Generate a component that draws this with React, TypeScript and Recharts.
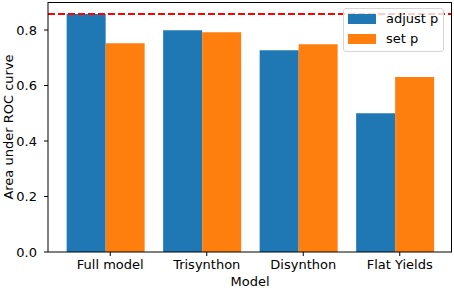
import { BarChart, Bar, XAxis, YAxis, ReferenceLine } from "recharts";

const models = ["Full model", "Trisynthon", "Disynthon", "Flat Yields"];
const adjustP = [0.858, 0.799, 0.727, 0.5];
const setP = [0.752, 0.792, 0.749, 0.631];
const bestAuc = 0.858;
const yTicks = [0, 0.2, 0.4, 0.6, 0.8];

const data = models.map((model, i) => ({
  model,
  adjust: adjustP[i],
  set: setP[i],
}));

const FONT = "'DejaVu Sans', sans-serif";

// matplotlib's ticks sit a little right of the bar pair
const ModelTick = (props: any) => {
  const { x, y, payload } = props;
  const tx = x + 5;
  return (
    <g>
      <line x1={tx} y1={y - 8} x2={tx} y2={y - 4} stroke="#000" />
      <text x={tx} y={y} dy="0.71em" textAnchor="middle" fontSize={13} fontFamily={FONT} fill="#000">
        {payload.value}
      </text>
    </g>
  );
};

const legendItems = [
  { label: "adjust p", color: "#1f77b4", top: 5 },
  { label: "set p", color: "#ff7f0e", top: 25 },
];

const LegendBox = () => (
  <div
    style={{
      position: "absolute",
      left: 343,
      top: 8,
      width: 99,
      height: 42,
      background: "rgba(255,255,255,0.8)",
      border: "1px solid #d6d6d6",
      borderRadius: 3,
      fontFamily: FONT,
      fontSize: 13,
      color: "#000",
    }}
  >
    {legendItems.map((item) => (
      <div key={item.label} style={{ position: "absolute", left: 4, top: item.top, display: "flex", alignItems: "center", height: 10 }}>
        <span style={{ display: "inline-block", width: 28, height: 10, background: item.color }} />
        <span style={{ marginLeft: 10, lineHeight: "10px" }}>{item.label}</span>
      </div>
    ))}
  </div>
);

export default function App() {
  return (
    <div style={{ position: "fixed", left: 0, top: 0, width: 454, height: 290, background: "#fff" }}>
      <BarChart
        width={454}
        height={290}
        data={data}
        margin={{ top: 2, right: 2, left: 0, bottom: 0 }}
        barGap={0}
        barCategoryGap="10%"
      >
        <XAxis
          dataKey="model"
          height={38}
          padding={{ left: 9, right: 9 }}
          axisLine={{ stroke: "#000" }}
          tickLine={false}
          tickSize={4}
          tickMargin={4}
          interval={0}
          tick={<ModelTick />}
          label={{ value: "Model", position: "insideBottom", offset: 4, fontSize: 13, fontFamily: FONT, fill: "#000" }}
        />
        <YAxis
          width={48}
          domain={[0, 0.901]}
          ticks={yTicks}
          tickFormatter={(v: number) => v.toFixed(1)}
          axisLine={{ stroke: "#000" }}
          tickLine={{ stroke: "#000" }}
          tickSize={4}
          tickMargin={7}
          tick={{ fontSize: 13, fontFamily: FONT, fill: "#000" }}
          label={{ value: "Area under ROC curve", angle: -90, position: "insideLeft", offset: 8, fontSize: 13, fontFamily: FONT, fill: "#000", style: { textAnchor: "middle" } }}
        />
        <Bar dataKey="adjust" name="adjust p" fill="#1f77b4" isAnimationActive={false} />
        <Bar dataKey="set" name="set p" fill="#ff7f0e" isAnimationActive={false} />
        <ReferenceLine y={bestAuc} stroke="#ff0000" strokeWidth={2} strokeDasharray="7 3" />
      </BarChart>
      {/* top and right spines */}
      <div
        style={{
          position: "absolute",
          left: 48,
          top: 1.5,
          width: 404,
          height: 250,
          borderTop: "1px solid #000",
          borderRight: "1px solid #000",
          boxSizing: "border-box",
          pointerEvents: "none",
        }}
      />
      <LegendBox />
    </div>
  );
}
